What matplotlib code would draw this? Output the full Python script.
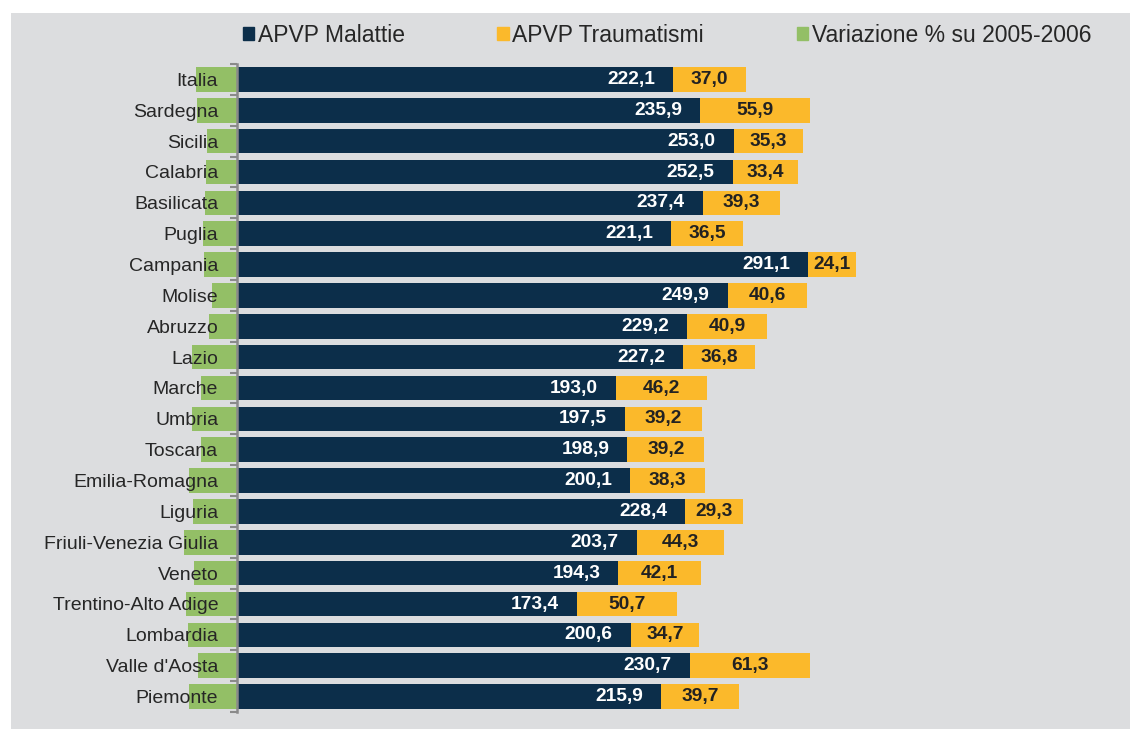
import matplotlib.pyplot as plt
from matplotlib.patches import Rectangle
import numpy as np

# ===== Data (top to bottom as in the chart) =====
regioni = ["Italia", "Sardegna", "Sicilia", "Calabria", "Basilicata", "Puglia",
           "Campania", "Molise", "Abruzzo", "Lazio", "Marche", "Umbria", "Toscana",
           "Emilia-Romagna", "Liguria", "Friuli-Venezia Giulia", "Veneto",
           "Trentino-Alto Adige", "Lombardia", "Valle d'Aosta", "Piemonte"]
malattie = [222.1, 235.9, 253.0, 252.5, 237.4, 221.1, 291.1, 249.9, 229.2, 227.2,
            193.0, 197.5, 198.9, 200.1, 228.4, 203.7, 194.3, 173.4, 200.6, 230.7, 215.9]
traumatismi = [37.0, 55.9, 35.3, 33.4, 39.3, 36.5, 24.1, 40.6, 40.9, 36.8,
               46.2, 39.2, 39.2, 38.3, 29.3, 44.3, 42.1, 50.7, 34.7, 61.3, 39.7]
variazione = [-20.9, -20.4, -15.5, -16.0, -16.5, -17.5, -17.0, -12.5, -14.0, -23.0,
              -18.5, -23.0, -18.5, -24.5, -22.5, -27.0, -22.0, -26.0, -25.0, -20.0, -24.5]

# ===== Style =====
C_MAL = "#0C2E4A"
C_TRA = "#FBB92B"
C_VAR = "#93BF66"
C_BG = "#DCDDDF"
C_AX = "#8A8A8A"

plt.rcParams['font.family'] = ['Liberation Sans', 'DejaVu Sans']

fig = plt.figure(figsize=(11.3, 7.29), dpi=100)
W, H = 1130, 729
fig.patches.append(Rectangle((11 / W, 0), 1 - 11 / W, 1 - 13 / H,
                             transform=fig.transFigure, facecolor=C_BG,
                             edgecolor="none", zorder=-5))

ax = fig.add_axes([150 / W, 17 / H, 950 / W, 648 / H])
ax.set_facecolor("none")
ax.set_axisbelow(False)

n = len(regioni)
y = np.arange(n)[::-1]
h = 0.8

ax.barh(y, variazione, height=h, color=C_VAR, zorder=1)
ax.barh(y, malattie, height=h, color=C_MAL, zorder=1)
ax.barh(y, traumatismi, left=malattie, height=h, color=C_TRA, zorder=1)

for yi, m, t in zip(y, malattie, traumatismi):
    ax.annotate(f"{m:.1f}".replace(".", ","), (m, yi), xytext=(-13, 0),
                textcoords="offset points", ha="right", va="center",
                color="white", fontsize=13.8, fontweight="bold", zorder=3)
    ax.text(m + t / 2, yi, f"{t:.1f}".replace(".", ","), ha="center", va="center",
            color="#222222", fontsize=13.8, fontweight="bold", zorder=3)

ax.set_xlim(-44.3, 439.6)
ax.set_ylim(-0.5, n - 0.5)
ax.set_xticks([])
ax.set_yticks(y)
ax.set_yticklabels(regioni)
ax.set_yticks(np.arange(-0.5, n, 1), minor=True)
ax.tick_params(axis="y", which="major", length=0, pad=13.5,
               labelsize=14, labelcolor="#262626")
ax.tick_params(axis="y", which="minor", length=5, width=1.5, color=C_AX, direction="out")

for s in ["top", "right", "bottom"]:
    ax.spines[s].set_visible(False)
ax.spines["left"].set_position(("data", 0))
ax.spines["left"].set_color(C_AX)
ax.spines["left"].set_linewidth(1.8)
ax.spines["left"].set_zorder(4)

handles = [Rectangle((0, 0), 1, 1, color=c) for c in (C_MAL, C_TRA, C_VAR)]
fig.legend(handles, ["APVP Malattie", "APVP Traumatismi", "Variazione % su 2005-2006"],
           loc="center", bbox_to_anchor=(667 / W, 1 - 35 / H), ncol=3, frameon=False,
           fontsize=16.5, handlelength=0.5, handleheight=0.5, handletextpad=0.15,
           columnspacing=4.05, labelcolor="#262626")

fig.savefig("out.png", dpi=100)
